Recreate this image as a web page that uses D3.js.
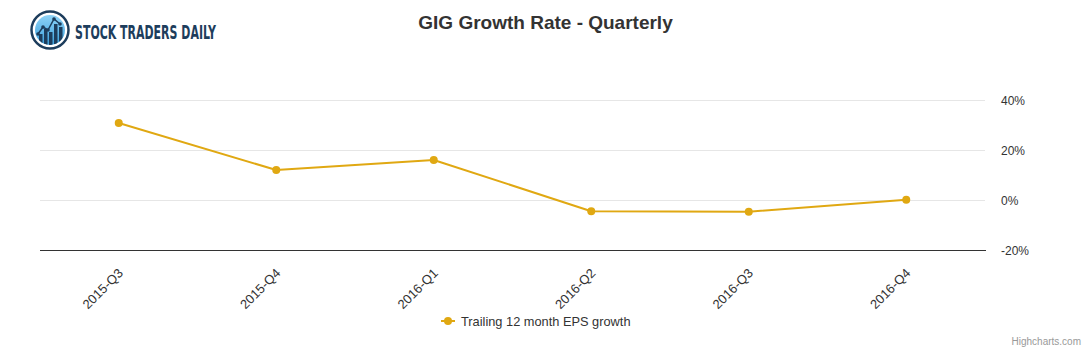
<!DOCTYPE html>
<html><head><meta charset="utf-8">
<script src="https://cdn.jsdelivr.net/npm/d3@7"></script>
<style>
html,body{margin:0;padding:0;background:#fff;}
svg{display:block;font-family:"Liberation Sans",Arial,Helvetica,sans-serif;}
</style></head>
<body>
<svg id="chart" width="1091" height="350"></svg>
<script>
const categories = ["2015-Q3","2015-Q4","2016-Q1","2016-Q2","2016-Q3","2016-Q4"];
const epsGrowth = [30.8, 12.0, 16.0, -4.5, -4.7, 0.1];
const yTicks = [-20, 0, 20, 40];
const seriesName = "Trailing 12 month EPS growth";
const titleText = "GIG Growth Rate - Quarterly";

const svg = d3.select("#chart");
const W = 1091, H = 350;
const plot = {left: 40, right: 985, top: 100, bottom: 250};
const color = "#e0a812";

const x = d3.scaleBand().domain(categories).range([plot.left, plot.right]);
const y = d3.scaleLinear().domain([-20, 40]).range([plot.bottom, plot.top]);

// Title
svg.append("text").attr("x", W/2).attr("y", 29)
  .attr("text-anchor", "middle").attr("fill", "#333")
  .attr("font-size", 19).attr("font-weight", "bold").text(titleText);

// Gridlines
svg.append("g").selectAll("line").data(yTicks.filter(d => d !== -20)).join("line")
  .attr("x1", plot.left).attr("x2", plot.right)
  .attr("y1", d => Math.round(y(d)) + 0.5).attr("y2", d => Math.round(y(d)) + 0.5)
  .attr("stroke", "#e6e6e6").attr("stroke-width", 1);

// Y axis (right side labels)
const yAxis = d3.axisRight(y).tickValues(yTicks).tickSize(0).tickPadding(0)
  .tickFormat(d => d + "%");
const gy = svg.append("g").attr("transform", `translate(${plot.right + 16},0)`).call(yAxis);
gy.select(".domain").remove();
gy.selectAll("text").attr("font-size", 12).attr("fill", "#333")
  .attr("font-family", '"Liberation Sans",Arial,sans-serif').attr("dy", "0.35em");

// X axis
const xAxis = d3.axisBottom(x).tickSize(0).tickPadding(0);
const gx = svg.append("g").attr("transform", `translate(0,${plot.bottom})`).call(xAxis);
gx.select(".domain").attr("stroke", "#333").attr("stroke-width", 1)
  .attr("d", `M${plot.left},0.5H${plot.right + 1}`);
gx.selectAll(".tick text")
  .attr("font-size", 13).attr("fill", "#333")
  .attr("font-family", '"Liberation Sans",Arial,sans-serif')
  .attr("text-anchor", "end").attr("y", 0).attr("dy", 0)
  .attr("transform", "translate(5,24) rotate(-45)");

// Line
const line = d3.line().x((d, i) => x(categories[i]) + x.bandwidth()/2).y(d => y(d));
svg.append("path").datum(epsGrowth).attr("d", line)
  .attr("fill", "none").attr("stroke", color).attr("stroke-width", 2)
  .attr("stroke-linejoin", "round").attr("stroke-linecap", "round");

svg.append("g").selectAll("circle").data(epsGrowth).join("circle")
  .attr("cx", (d, i) => x(categories[i]) + x.bandwidth()/2)
  .attr("cy", d => y(d)).attr("r", 4).attr("fill", color);

// Legend
const lg = svg.append("g").attr("transform", "translate(441,321)");
lg.append("line").attr("x1", 0).attr("x2", 14).attr("y1", 0).attr("y2", 0)
  .attr("stroke", color).attr("stroke-width", 2);
lg.append("circle").attr("cx", 7).attr("cy", 0).attr("r", 4).attr("fill", color);
lg.append("text").attr("x", 20).attr("y", 4.5).attr("font-size", 12.8).attr("fill", "#333")
  .text(seriesName);

// Credits
svg.append("text").attr("x", W - 10).attr("y", 345).attr("text-anchor", "end")
  .attr("font-size", 10).attr("fill", "#999").text("Highcharts.com");

// Logo
const defs = svg.append("defs");
const grad = defs.append("linearGradient").attr("id", "lg1").attr("x1", 0).attr("y1", 0).attr("x2", 0).attr("y2", 1);
grad.append("stop").attr("offset", "0%").attr("stop-color", "#8fd3f7");
grad.append("stop").attr("offset", "100%").attr("stop-color", "#3a9fdc");
const logo = svg.append("g");
logo.append("circle").attr("cx", 50).attr("cy", 30).attr("r", 18.5)
  .attr("fill", "#fff").attr("stroke", "#1d3d5c").attr("stroke-width", 2.5);
logo.append("circle").attr("cx", 50).attr("cy", 30).attr("r", 15).attr("fill", "url(#lg1)");
const clip = defs.append("clipPath").attr("id", "lc");
clip.append("circle").attr("cx", 50).attr("cy", 30).attr("r", 15);
const lgi = logo.append("g").attr("clip-path", "url(#lc)");
const bars = [[39,34],[44,29],[49,32],[54,24],[59,27]];
bars.forEach(b => lgi.append("rect").attr("x", b[0]).attr("y", b[1]).attr("width", 3.5).attr("height", 50 - b[1]).attr("fill", "#1d3d5c"));
const pts = [[38,34],[43,27],[48,30],[54,19],[60,24]];
lgi.append("path").attr("d", d3.line()(pts)).attr("fill", "none").attr("stroke", "#1d3d5c").attr("stroke-width", 1.5);
pts.forEach(p => lgi.append("circle").attr("cx", p[0]).attr("cy", p[1]).attr("r", 1.8).attr("fill", "#1d3d5c"));
logo.append("text").attr("x", 75).attr("y", 39).attr("font-size", 20)
  .attr("font-family", '"Liberation Sans Narrow","DejaVu Sans Condensed",Arial,sans-serif')
  .attr("font-weight", "bold")
  .attr("fill", "#1d3d5c").attr("textLength", 141).attr("lengthAdjust", "spacingAndGlyphs")
  .text("STOCK TRADERS DAILY");
</script>
</body></html>
